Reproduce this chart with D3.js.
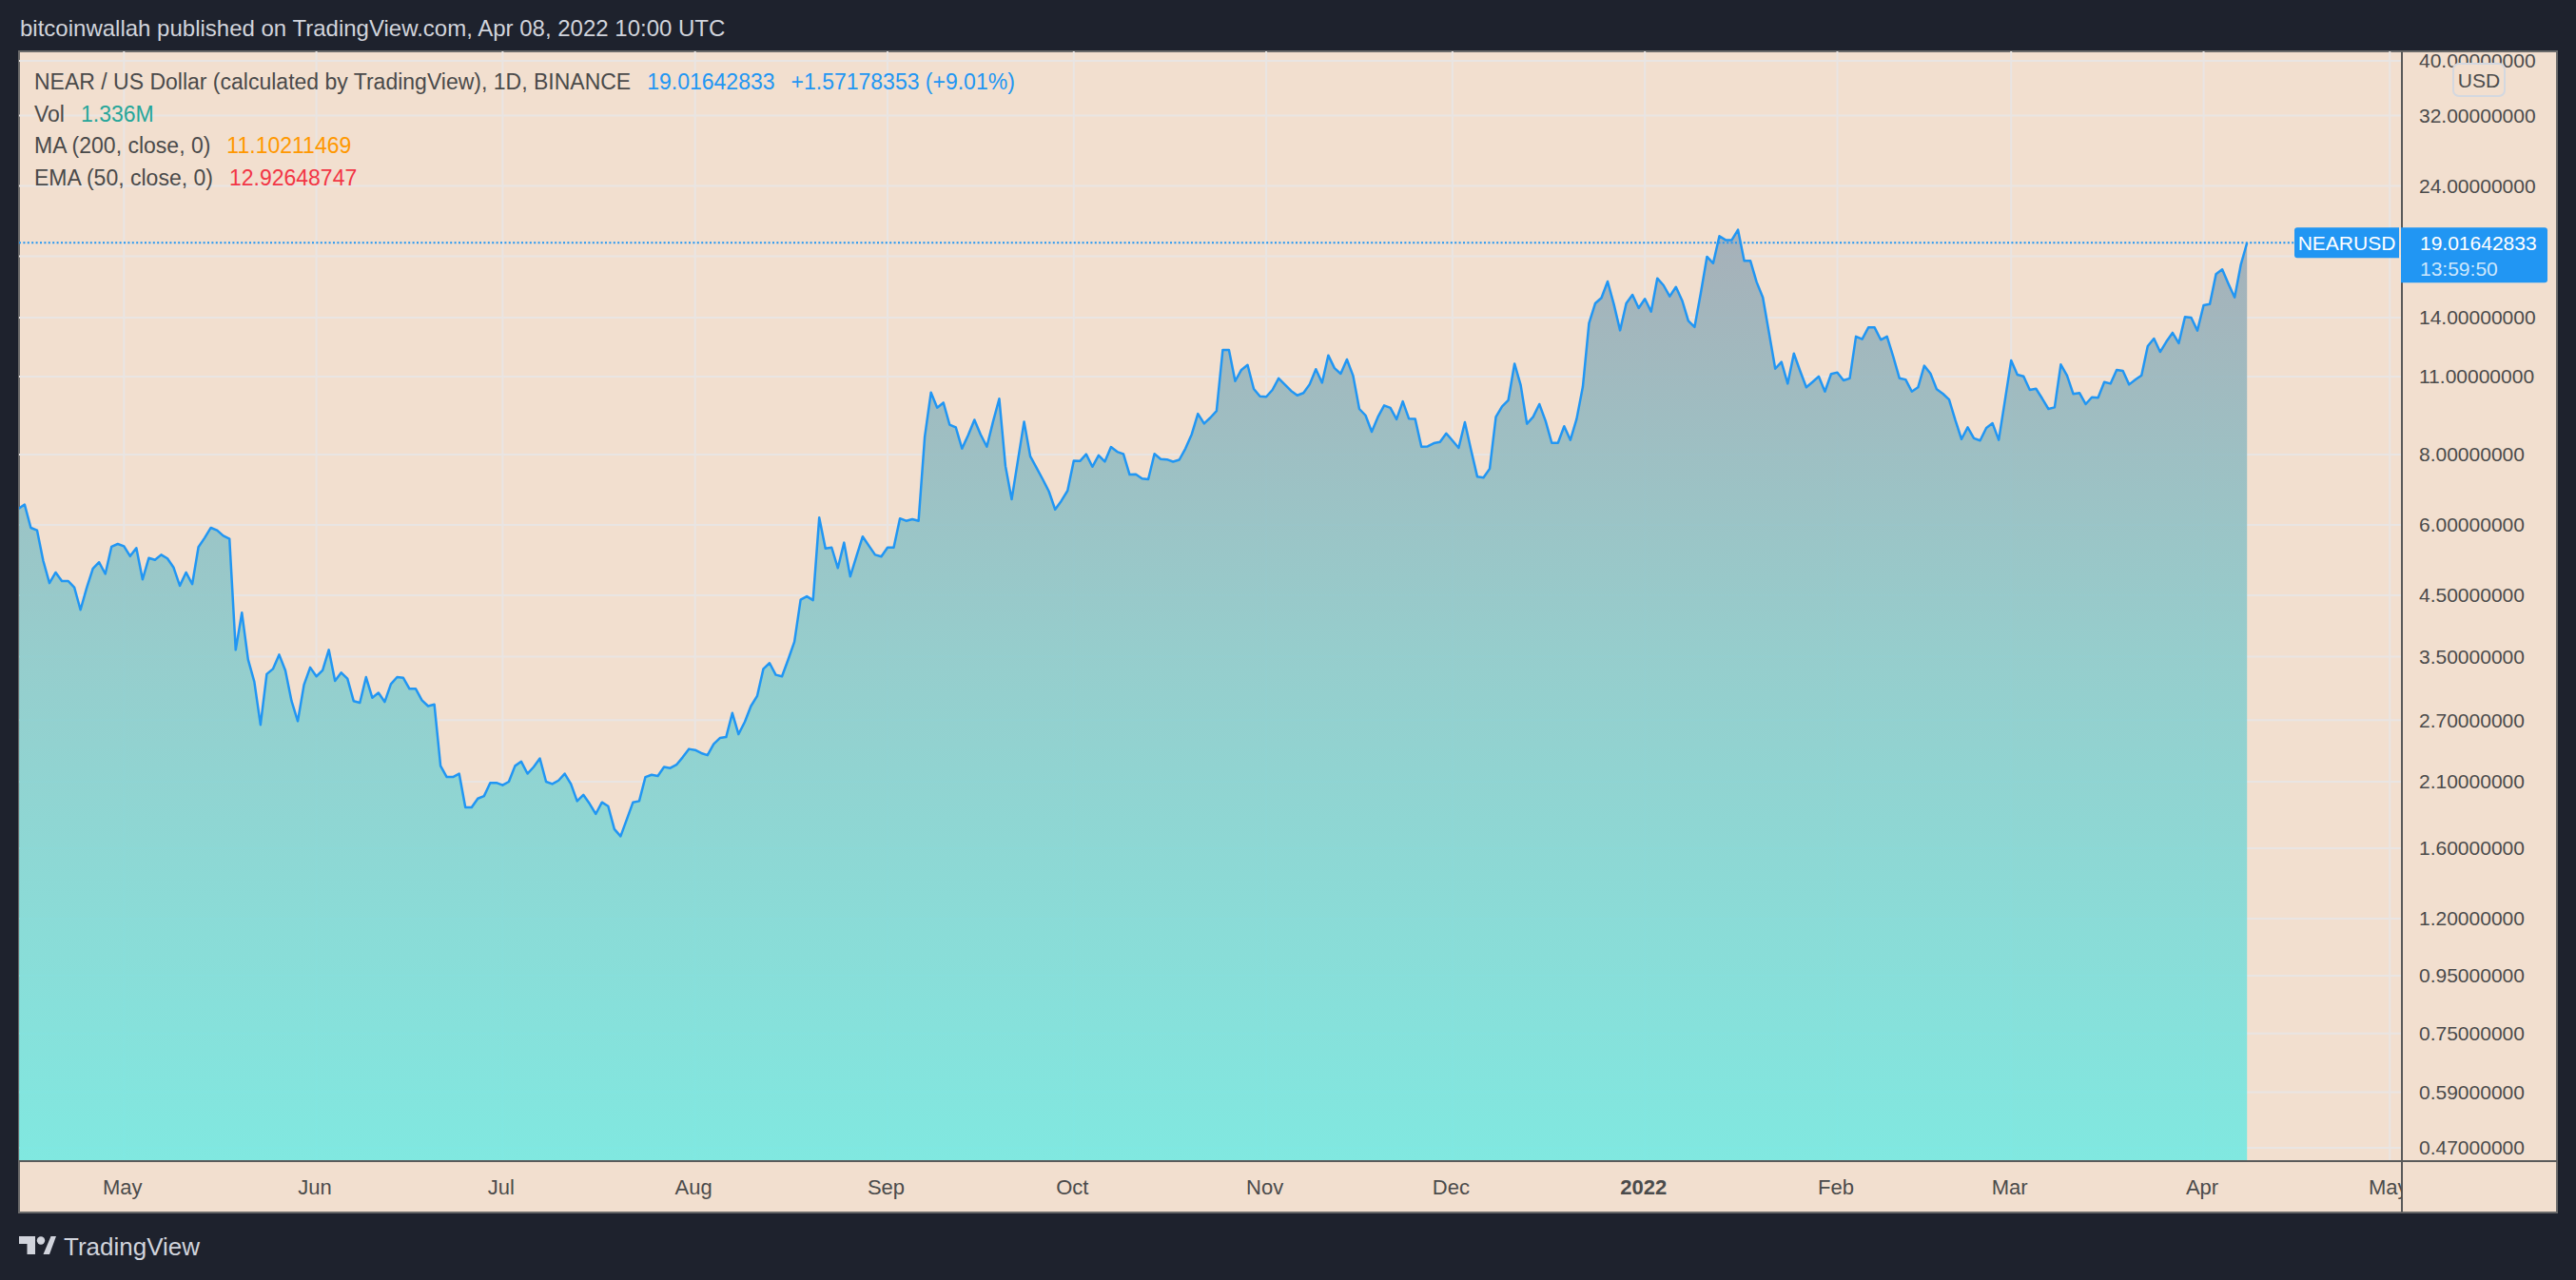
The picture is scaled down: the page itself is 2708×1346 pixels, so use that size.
<!DOCTYPE html>
<html lang="en">

<head>
  <meta charset="UTF-8" />
  <title>NEAR / US Dollar</title>
  <style>
    body { margin: 0; background: #1e222d; overflow: hidden; }
    svg { display: block; font-family: "Liberation Sans", Arial, sans-serif; }
  </style>
</head>

<body>
  <svg id="chart" width="2708" height="1346"></svg>

  <script src="https://cdn.jsdelivr.net/npm/d3@7"></script>
  <script>
    // daily closes (NEARUSD, BINANCE, 1D)
    var closeApr21 = [6.41, 6.52, 5.93, 5.87, 5.18, 4.73, 4.94, 4.77, 4.77, 4.65, 4.24, 4.64, 5.02, 5.15, 4.91, 5.49, 5.55]; // from Apr 14
    var closeMay21 = [5.50, 5.28, 5.46, 4.80, 5.24, 5.20, 5.31, 5.23, 5.04, 4.68, 4.94, 4.71, 5.48, 5.69, 5.93, 5.87,
      5.74, 5.67, 3.60, 4.19, 3.46, 3.16, 2.65, 3.26, 3.33, 3.53, 3.31, 2.92, 2.69, 3.12, 3.35];
    var closeJun21 = [3.23, 3.31, 3.60, 3.17, 3.28, 3.20, 2.92, 2.90, 3.22, 2.96, 3.02, 2.91, 3.13, 3.22, 3.21, 3.07,
      3.07, 2.93, 2.86, 2.88, 2.24, 2.14, 2.14, 2.17, 1.89, 1.89, 1.96, 1.98, 2.09, 2.09];
    var closeJul21 = [2.07, 2.10, 2.24, 2.28, 2.17, 2.23, 2.31, 2.10, 2.08, 2.11, 2.17, 2.08, 1.94, 1.99, 1.92, 1.84,
      1.93, 1.90, 1.73, 1.68, 1.80, 1.93, 1.94, 2.14, 2.16, 2.15, 2.23, 2.22, 2.25, 2.32, 2.40];
    var closeAug21 = [2.39, 2.36, 2.34, 2.45, 2.51, 2.52, 2.78, 2.55, 2.68, 2.86, 2.98, 3.33, 3.41, 3.25, 3.23, 3.46,
      3.72, 4.42, 4.48, 4.41, 6.18, 5.45, 5.47, 5.03, 5.58, 4.86, 5.28, 5.72, 5.51, 5.31, 5.27];
    var closeSep21 = [5.47, 5.47, 6.16, 6.10, 6.14, 6.10, 8.61, 10.31, 9.69, 9.89, 9.04, 8.94, 8.20, 8.66, 9.22, 8.68,
      8.26, 9.15, 10.05, 7.63, 6.66, 7.81, 9.15, 7.94, 7.58, 7.23, 6.88, 6.39, 6.62, 6.90];
    var closeOct21 = [7.80, 7.79, 8.01, 7.61, 7.97, 7.77, 8.25, 8.09, 8.02, 7.37, 7.38, 7.25, 7.23, 8.02, 7.85, 7.84,
      7.77, 7.83, 8.20, 8.69, 9.45, 9.08, 9.30, 9.56, 12.27, 12.27, 10.80, 11.31, 11.54, 10.46, 10.15];
    var closeNov21 = [10.13, 10.42, 10.92, 10.65, 10.38, 10.19, 10.29, 10.66, 11.34, 10.73, 12.00, 11.39, 11.13, 11.80,
      11.04, 9.64, 9.39, 8.78, 9.33, 9.78, 9.68, 9.24, 9.94, 9.26, 9.25, 8.26, 8.27, 8.38, 8.42, 8.72];
    var closeDec21 = [8.47, 8.22, 9.13, 8.15, 7.31, 7.28, 7.55, 9.33, 9.74, 9.99, 11.60, 10.62, 9.07, 9.33, 9.83, 9.18,
      8.39, 8.39, 8.98, 8.49, 9.25, 10.55, 13.68, 14.84, 15.18, 16.23, 14.79, 13.29, 14.84, 15.37, 14.56];
    var closeJan22 = [15.12, 14.35, 16.44, 15.98, 15.27, 15.87, 15.02, 13.82, 13.47, 15.47, 17.96, 17.49, 19.54, 19.23,
      19.23, 20.05, 17.66, 17.66, 16.19, 15.21, 13.16, 11.36, 11.68, 10.69, 12.09, 11.26, 10.53, 10.76, 11.01, 10.35, 11.12];
    var closeFeb22 = [11.19, 10.83, 10.92, 12.96, 12.82, 13.45, 13.45, 12.79, 12.96, 11.94, 10.93, 10.87, 10.35, 10.53,
      11.50, 11.14, 10.45, 10.26, 10.02, 9.21, 8.52, 8.94, 8.55, 8.47, 8.92, 9.09, 8.49, 9.98];
    var closeMar22 = [11.75, 11.09, 11.01, 10.42, 10.47, 10.06, 9.64, 9.70, 11.56, 11.05, 10.25, 10.29, 9.83, 10.11,
      10.09, 10.76, 10.69, 11.31, 11.26, 10.65, 10.86, 11.06, 12.46, 12.85, 12.17, 12.69, 13.16, 12.61, 14.04, 14.00, 13.28];
    var closeApr22 = [14.73, 14.80, 16.72, 17.05, 16.08, 15.21, 17.39, 19.01642833];

    var yTicks = [40, 32, 24, 18, 14, 11, 8, 6, 4.5, 3.5, 2.7, 2.1, 1.6, 1.2, 0.95, 0.75, 0.59, 0.47];
    var monthNames = ["2022", "Feb", "Mar", "Apr", "May", "Jun", "Jul", "Aug", "Sep", "Oct", "Nov", "Dec"];

    var lastPrice = "19.01642833";
    var priceChange = "+1.57178353 (+9.01%)";
    var volValue = "1.336M";
    var maValue = "11.10211469";
    var emaValue = "12.92648747";
    var countdown = "13:59:50";

    // year, month index, first day, closes
    var months = [
      [2021, 3, 14, closeApr21], [2021, 4, 1, closeMay21], [2021, 5, 1, closeJun21],
      [2021, 6, 1, closeJul21], [2021, 7, 1, closeAug21], [2021, 8, 1, closeSep21],
      [2021, 9, 1, closeOct21], [2021, 10, 1, closeNov21], [2021, 11, 1, closeDec21],
      [2022, 0, 1, closeJan22], [2022, 1, 1, closeFeb22], [2022, 2, 1, closeMar22],
      [2022, 3, 1, closeApr22]
    ];

    var data = [];
    months.forEach(function(m) {
      m[3].forEach(function(v, i) {
        data.push({ date: new Date(Date.UTC(m[0], m[1], m[2] + i)), close: v });
      });
    });

    var plotLeft = 20, plotRight = 2525, plotTop = 54, plotBottom = 1221;
    var panelRight = 2688, panelBottom = 1275;
    var blue = "#2196f3";
    var axisText = "#4b4b4b";

    var x = d3.scaleUtc()
      .domain([new Date(Date.UTC(2021, 4, 1)), new Date(Date.UTC(2022, 4, 1))])
      .range([130.3, 2512.3]);

    var y = d3.scaleLog()
      .domain([0.47, 40])
      .range([1207, 64]);

    var svg = d3.select("#chart");
    var defs = svg.append("defs");

    defs.append("clipPath").attr("id", "plotClip")
      .append("rect")
      .attr("x", plotLeft).attr("y", plotTop)
      .attr("width", plotRight - plotLeft).attr("height", plotBottom - plotTop);

    var grad = defs.append("linearGradient")
      .attr("id", "areaFill")
      .attr("gradientUnits", "userSpaceOnUse")
      .attr("x1", 0).attr("x2", 0)
      .attr("y1", y(20)).attr("y2", plotBottom);
    grad.append("stop").attr("offset", 0).attr("stop-color", "#9eabb6");
    grad.append("stop").attr("offset", 0.45).attr("stop-color", "#8ccbcc");
    grad.append("stop").attr("offset", 1).attr("stop-color", "#74e9e2");

    // title bar
    svg.append("text")
      .attr("x", 21).attr("y", 38)
      .attr("fill", "#d1d4dc")
      .style("font-size", "24px")
      .text("bitcoinwallah published on TradingView.com, Apr 08, 2022 10:00 UTC");

    // chart panel
    svg.append("rect")
      .attr("x", plotLeft).attr("y", plotTop)
      .attr("width", panelRight - plotLeft).attr("height", panelBottom - plotTop)
      .attr("fill", "#f2dfcf")
      .attr("stroke", "#6a6a6a")
      .attr("stroke-width", 2);

    var monthTicks = d3.utcMonth.range(new Date(Date.UTC(2021, 4, 1)), new Date(Date.UTC(2022, 5, 1)));

    var grid = svg.append("g").attr("clip-path", "url(#plotClip)");
    grid.selectAll("line.h")
      .data(yTicks)
      .enter()
      .append("line")
      .attr("class", "h")
      .attr("x1", plotLeft).attr("x2", plotRight)
      .attr("y1", function(d) { return y(d); })
      .attr("y2", function(d) { return y(d); });
    grid.selectAll("line.v")
      .data(monthTicks)
      .enter()
      .append("line")
      .attr("class", "v")
      .attr("x1", function(d) { return x(d); })
      .attr("x2", function(d) { return x(d); })
      .attr("y1", plotTop).attr("y2", plotBottom);
    grid.selectAll("line")
      .attr("stroke", "#e9e5e3")
      .attr("stroke-width", 2);

    var plot = svg.append("g").attr("clip-path", "url(#plotClip)");

    var area = d3.area()
      .x(function(d) { return x(d.date); })
      .y0(plotBottom)
      .y1(function(d) { return y(d.close); });

    var line = d3.line()
      .x(function(d) { return x(d.date); })
      .y(function(d) { return y(d.close); });

    plot.append("path")
      .datum(data)
      .attr("d", area)
      .attr("fill", "url(#areaFill)")
      .attr("fill-opacity", 0.9);

    plot.append("path")
      .datum(data)
      .attr("d", line)
      .attr("fill", "none")
      .attr("stroke", blue)
      .attr("stroke-width", 2.5)
      .attr("stroke-linejoin", "round");

    // last price dotted line
    var last = data[data.length - 1];
    plot.append("line")
      .attr("x1", plotLeft).attr("x2", 2412)
      .attr("y1", y(last.close)).attr("y2", y(last.close))
      .attr("stroke", blue)
      .attr("stroke-width", 2)
      .attr("stroke-dasharray", "2,2.4");

    // panel separators
    svg.append("line")
      .attr("x1", plotRight).attr("x2", plotRight)
      .attr("y1", plotTop).attr("y2", panelBottom)
      .attr("stroke", "#5a5a5a").attr("stroke-width", 2);
    svg.append("line")
      .attr("x1", plotLeft).attr("x2", panelRight)
      .attr("y1", plotBottom).attr("y2", plotBottom)
      .attr("stroke", "#5a5a5a").attr("stroke-width", 2);

    // price scale (the 18 label sits under the last-price box, so it is left blank)
    var yAxis = svg.append("g")
      .attr("transform", "translate(" + plotRight + ",0)")
      .call(d3.axisRight(y)
        .tickValues(yTicks)
        .tickFormat(function(d) { return d === 18 ? "" : d3.format(".8f")(d); })
        .tickSize(0)
        .tickPadding(18));
    yAxis.select(".domain").remove();
    yAxis.selectAll("text")
      .attr("fill", axisText)
      .style("font-size", "21px")
      .style("font-family", "Liberation Sans, Arial, sans-serif");

    // USD badge
    svg.append("rect")
      .attr("x", 2579).attr("y", 67)
      .attr("width", 54).attr("height", 34)
      .attr("rx", 6)
      .attr("fill", "#f2dfcf")
      .attr("stroke", "#d3d8e0")
      .attr("stroke-width", 2);
    svg.append("text")
      .attr("x", 2606).attr("y", 92)
      .attr("text-anchor", "middle")
      .attr("fill", axisText)
      .style("font-size", "21px")
      .text("USD");

    // time scale
    defs.append("clipPath").attr("id", "timeClip")
      .append("rect")
      .attr("x", plotLeft).attr("y", plotBottom)
      .attr("width", plotRight - plotLeft).attr("height", panelBottom - plotBottom);

    var xAxis = svg.append("g")
      .attr("clip-path", "url(#timeClip)")
      .append("g")
      .attr("transform", "translate(-2," + plotBottom + ")")
      .call(d3.axisBottom(x)
        .tickValues(monthTicks)
        .tickFormat(function(d) { return monthNames[d.getUTCMonth()]; })
        .tickSize(0)
        .tickPadding(19));
    xAxis.select(".domain").remove();
    xAxis.selectAll("text")
      .attr("fill", axisText)
      .style("font-size", "22px")
      .style("font-family", "Liberation Sans, Arial, sans-serif")
      .style("font-weight", function(d) { return d.getUTCMonth() === 0 ? "bold" : "normal"; });

    // legend
    var legendRows = [
      [["NEAR / US Dollar (calculated by TradingView), 1D, BINANCE", "#4a4a4a"], [lastPrice, blue], [priceChange, blue]],
      [["Vol", "#4a4a4a"], [volValue, "#26a69a"]],
      [["MA (200, close, 0)", "#4a4a4a"], [maValue, "#ff9800"]],
      [["EMA (50, close, 0)", "#4a4a4a"], [emaValue, "#f23645"]]
    ];
    var legendY = [94, 128, 161, 195];

    legendRows.forEach(function(row, r) {
      var cx = 36;
      row.forEach(function(part) {
        var t = svg.append("text")
          .attr("x", cx).attr("y", legendY[r])
          .attr("fill", part[1])
          .style("font-size", "23px")
          .text(part[0]);
        cx += t.node().getComputedTextLength() + 17;
      });
    });

    // symbol and last price labels
    var py = y(last.close);
    svg.append("path")
      .attr("d", "M2415," + (py - 16) + "H2522V" + (py + 16) + "H2415a3,3 0 0 1 -3,-3V" + (py - 13) + "a3,3 0 0 1 3,-3Z")
      .attr("fill", blue);
    svg.append("text")
      .attr("x", 2467).attr("y", py + 8)
      .attr("text-anchor", "middle")
      .attr("fill", "#ffffff")
      .style("font-size", "21px")
      .text("NEARUSD");

    svg.append("path")
      .attr("d", "M2524," + (py - 16) + "H2675a3,3 0 0 1 3,3V" + (py + 39) + "a3,3 0 0 1 -3,3H2524Z")
      .attr("fill", blue);
    svg.append("text")
      .attr("x", 2544).attr("y", py + 8)
      .attr("fill", "#ffffff")
      .style("font-size", "21px")
      .text(lastPrice);
    svg.append("text")
      .attr("x", 2544).attr("y", py + 35)
      .attr("fill", "#cde7fc")
      .style("font-size", "21px")
      .text(countdown);

    // footer logo
    var logo = svg.append("g").attr("fill", "#d1d4dc");
    logo.append("path").attr("d", "M20,1300H37V1319H28.5V1308H20Z");
    logo.append("circle").attr("cx", 43).attr("cy", 1304.5).attr("r", 4.2);
    logo.append("path").attr("d", "M53.5,1300H59L52,1319H45.5Z");
    svg.append("text")
      .attr("x", 67).attr("y", 1320)
      .attr("fill", "#d1d4dc")
      .style("font-size", "26px")
      .text("TradingView");
  </script>

</body>

</html>
